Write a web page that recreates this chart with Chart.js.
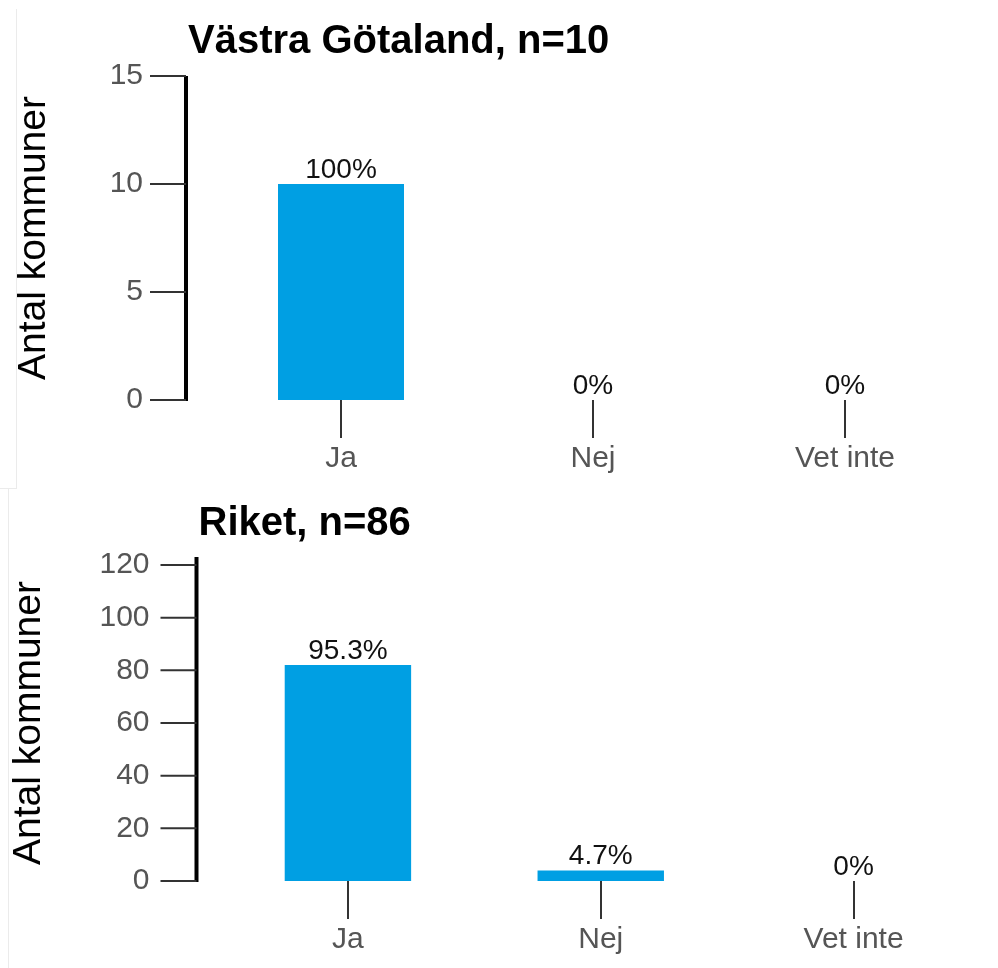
<!DOCTYPE html>
<html>
<head>
<meta charset="utf-8">
<script src="https://cdn.jsdelivr.net/npm/chart.js@4.4.1/dist/chart.umd.min.js"></script>
<style>
  html, body { margin: 0; padding: 0; background: #fff; }
  body { width: 998px; height: 968px; position: relative; overflow: hidden; font-family: "Liberation Sans", Arial, sans-serif; }
  .panel { position: absolute; left: 0; width: 998px; }
  #p1 { top: 0; height: 488px; }
  #p2 { top: 488px; height: 480px; }
  .edge { position: absolute; background: #ebebeb; }
  canvas { position: absolute; left: 0; top: 0; }
</style>
</head>
<body>
<div class="panel" id="p1">
  <div class="edge" style="left:16px;top:9px;width:1px;height:479px"></div>
  <canvas id="c1" width="998" height="488"></canvas>
</div>
<div class="panel" id="p2">
  <div class="edge" style="left:0;top:0;width:17px;height:1px"></div>
  <div class="edge" style="left:8px;top:0;width:1px;height:480px"></div>
  <canvas id="c2" width="998" height="480"></canvas>
</div>
<script>
// data
const kategorier = ["Ja", "Nej", "Vet inte"];
const yTitel = "Antal kommuner";

const vgTitel = "Västra Götaland, n=10";
const vgAntal = [10, 0, 0];
const vgAndel = ["100%", "0%", "0%"];
const vgTicks = [0, 5, 10, 15];

const riketTitel = "Riket, n=86";
const riketAntal = [82, 4, 0];
const riketAndel = ["95.3%", "4.7%", "0%"];
const riketTicks = [0, 20, 40, 60, 80, 100, 120];

const BLA = "#009FE3";
const FONT = "'Liberation Sans', Arial, sans-serif";

// y-axel, titel och procentetiketter ritas här
const decor = {
  id: "decor",
  afterDraw(chart, args, o){
    const { ctx, chartArea: a, scales: { y } } = chart;
    const ax = a.left - o.gap;
    const y0 = y.getPixelForValue(0);
    ctx.save();

    ctx.strokeStyle = "#000";
    ctx.lineWidth = 4;
    ctx.beginPath();
    ctx.moveTo(ax, y.getPixelForValue(y.max) - o.over);
    ctx.lineTo(ax, y0 + 1);
    ctx.stroke();

    ctx.strokeStyle = "#333";
    ctx.lineWidth = 2;
    y.ticks.forEach(t => {
      const py = y.getPixelForValue(t.value);
      ctx.beginPath();
      ctx.moveTo(ax - 36, py);
      ctx.lineTo(ax, py);
      ctx.stroke();
    });

    ctx.fillStyle = "#111";
    ctx.font = "28px " + FONT;
    ctx.textAlign = "center";
    ctx.textBaseline = "alphabetic";
    chart.getDatasetMeta(0).data.forEach((b, i) => {
      ctx.fillText(o.andel[i], b.x, b.y - 6);
    });

    ctx.fillStyle = "#000";
    ctx.font = "bold 40px " + FONT;
    ctx.textAlign = "left";
    ctx.fillText(o.titel, ax + 2, o.titelY);
    ctx.restore();
  }
};

function makeChart(canvas, antal, andel, ticks, titel, lay){
  return new Chart(canvas, {
    type: "bar",
    data: {
      labels: kategorier,
      datasets: [{ data: antal, backgroundColor: BLA, borderWidth: 0,
        categoryPercentage: 1, barPercentage: 0.5 }]
    },
    options: {
      responsive: false,
      animation: false,
      layout: { padding: { left: lay.padLeft, right: lay.padRight, top: lay.padTop, bottom: lay.padBottom } },
      plugins: {
        legend: { display: false },
        tooltip: { enabled: false },
        decor: { gap: lay.gap, over: lay.over, andel, titel, titelY: lay.titelY }
      },
      scales: {
        x: {
          border: { display: false },
          grid: { display: true, drawOnChartArea: false, drawTicks: true, tickLength: 38,
            offset: false, color: "#333", lineWidth: 2 },
          ticks: { color: "#555", padding: 3, font: { size: 30, family: FONT } }
        },
        y: {
          min: 0,
          max: ticks[ticks.length - 1],
          afterBuildTicks: s => { s.ticks = ticks.map(v => ({ value: v })); },
          afterFit: s => { s.width = lay.yWidth; },
          border: { display: false },
          // osynliga streck: ger bara avståndet mellan etikett och ritytan
          grid: { display: false, drawTicks: true, tickLength: 72 },
          ticks: { color: "#555", padding: 0, font: { size: 30, family: FONT } },
          title: { display: true, text: yTitel, color: "#000", padding: 0,
            font: { size: 39, family: FONT } }
        }
      }
    },
    plugins: [decor]
  });
}

makeChart(document.getElementById("c1"), vgAntal, vgAndel, vgTicks, vgTitel,
  { padLeft: 11, yWidth: 204, padRight: 27, padTop: 76, padBottom: 8, gap: 29, over: 0, titelY: 53 });

makeChart(document.getElementById("c2"), riketAntal, riketAndel, riketTicks, riketTitel,
  { padLeft: 6, yWidth: 215.5, padRight: 18, padTop: 77, padBottom: 7, gap: 25, over: 8, titelY: 47 });
</script>
</body>
</html>
